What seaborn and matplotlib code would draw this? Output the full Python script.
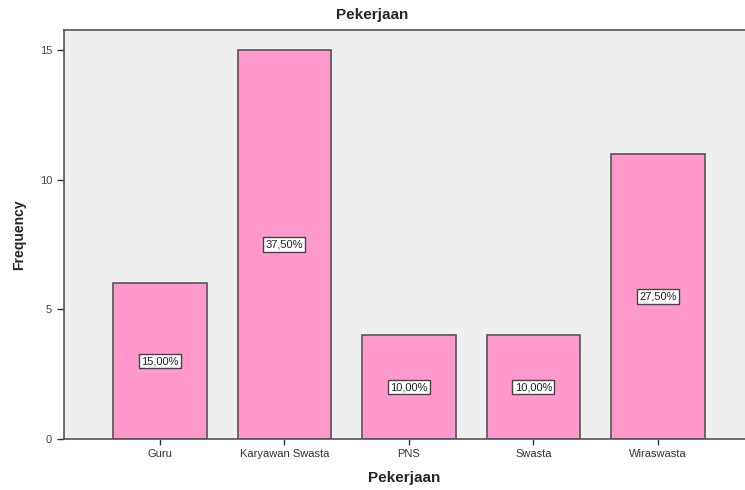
import matplotlib
matplotlib.use("Agg")
import matplotlib.pyplot as plt
import seaborn as sns
import pandas as pd

categories = ["Guru", "Karyawan Swasta", "PNS", "Swasta", "Wiraswasta"]
counts = [6, 15, 4, 4, 11]
pct_labels = ["15,00%", "37,50%", "10,00%", "10,00%", "27,50%"]
yticks = [0, 5, 10, 15]

sns.set_style("white")
plt.rcParams['font.family'] = ['Liberation Sans', 'DejaVu Sans']

df = pd.DataFrame({"Pekerjaan": categories, "Frequency": counts})

fig = plt.figure(figsize=(7.45, 4.9), dpi=100)
ax = fig.add_axes([64/745, 1-439/490, 1-64/745, (439-30)/490])
ax.set_facecolor("#EFEFEF")

sns.barplot(data=df, x="Pekerjaan", y="Frequency", color="#FF99CC",
            saturation=1, width=0.75, edgecolor="#555555", linewidth=1.2, ax=ax)

for i, (c, lab) in enumerate(zip(counts, pct_labels)):
    ax.text(i, c/2, lab, ha="center", va="center", fontsize=8, color="#222222",
            bbox=dict(boxstyle="square,pad=0.2", fc="white", ec="#444444", lw=1))

ax.set_xlim(-0.77, 4.70)
ax.set_ylim(0, 15.77)
ax.set_yticks(yticks)
ax.set_yticklabels([str(t) for t in yticks], fontsize=8, color="#444444")
ax.tick_params(axis="x", labelsize=8, labelcolor="#333333", length=4, width=1, color="#333333", direction="out", bottom=True)
ax.tick_params(axis="y", length=5, width=1, color="#333333", direction="out", left=True)
for s in ["left", "bottom", "top"]:
    ax.spines[s].set_color("#555555")
    ax.spines[s].set_linewidth(1.2)
ax.spines["right"].set_visible(False)

ax.set_xlabel("Pekerjaan", fontsize=11, fontweight="bold", labelpad=8)
ax.set_ylabel("Frequency", fontsize=10, fontweight="bold", labelpad=10)
fig.text(0.5, 1-15/490, "Pekerjaan", ha="center", va="center", fontsize=11, fontweight="bold")

fig.savefig("out.png", dpi=100)
